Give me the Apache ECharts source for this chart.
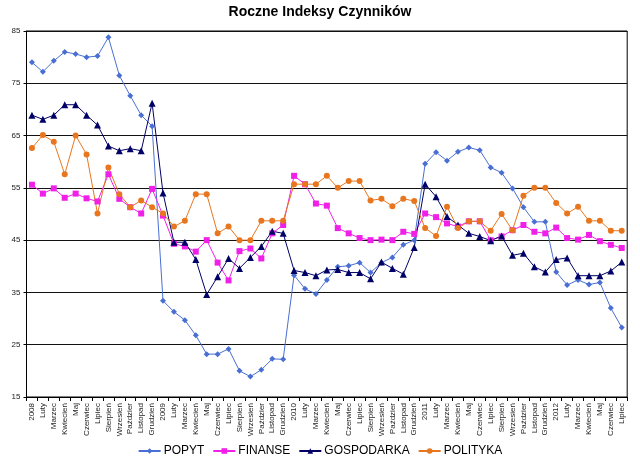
<!DOCTYPE html>
<html>
<head>
<meta charset="utf-8">
<script src="https://cdn.jsdelivr.net/npm/echarts@6/dist/echarts.min.js"></script>
<style>html,body{margin:0;padding:0;background:#fff}#c{width:640px;height:476px}</style>
</head>
<body>
<div id="c"></div>
<script>
const months = ["Luty","Marzec","Kwiecień","Maj","Czerwiec","Lipiec","Sierpień","Wrzesień","Paździer","Listopad","Grudzień"];
const categories = [].concat(["2008"], months, ["2009"], months, ["2010"], months, ["2011"], months,
  ["2012","Luty","Marzec","Kwiecień","Maj","Czerwiec","Lipiec"]);
const yTicks = { min: 15, max: 85, step: 10 };

const popyt = [79.0,77.2,79.3,81.0,80.6,80.0,80.2,83.8,76.5,72.6,68.9,66.8,
  33.4,31.3,29.7,26.8,23.2,23.2,24.2,20.0,18.9,20.2,22.3,22.2,
  38.3,35.7,34.7,37.4,39.9,40.1,40.7,38.8,40.7,41.7,44.1,45.0,
  59.6,61.8,60.2,61.9,62.7,62.2,58.9,57.9,54.9,51.3,48.5,48.5,
  38.9,36.4,37.4,36.5,36.9,32.0,28.3];
const finanse = [55.6,53.9,54.9,53.1,53.9,53.0,52.4,57.6,52.9,51.3,50.1,54.8,
  49.7,44.3,43.8,42.8,45.0,40.7,37.3,42.9,43.4,41.5,46.3,47.9,
  57.3,55.7,52.0,51.6,47.3,46.3,45.4,45.0,45.1,45.0,46.6,46.2,
  50.1,49.4,48.2,47.6,48.6,48.6,45.0,45.7,46.9,47.9,46.6,46.3,
  47.4,45.4,45.1,46.0,44.8,44.1,43.5];
const gospodarka = [68.9,68.1,68.9,70.9,70.9,68.9,67.0,63.0,62.1,62.5,62.1,71.2,
  54.0,44.6,44.6,41.3,34.6,38.0,41.5,39.6,41.7,43.8,46.7,46.3,
  39.2,38.8,38.2,39.3,39.4,38.8,38.8,37.6,40.8,39.6,38.5,43.6,
  55.7,53.3,49.5,47.9,46.3,45.7,44.9,45.8,42.1,42.5,39.9,38.9,
  41.3,41.6,38.2,38.2,38.2,39.1,40.8];
const polityka = [62.6,65.1,63.8,57.6,65.0,61.4,50.1,58.9,53.8,51.3,52.6,51.3,
  50.1,47.6,48.7,53.8,53.8,46.3,47.6,45.0,45.0,48.7,48.7,48.7,
  55.7,55.7,55.7,57.3,55.0,56.3,56.3,52.6,52.9,51.5,52.9,52.5,
  47.3,45.8,51.4,47.3,48.6,48.6,46.8,50.0,46.9,53.5,55.0,55.0,
  52.1,50.1,51.4,48.7,48.7,46.8,46.8];

const chart = echarts.init(document.getElementById('c'), null, {renderer: 'canvas'});
const mk = (name, data, color, symbol, size) => ({
  name, type: 'line', data, symbol, symbolSize: size,
  lineStyle: { color, width: 1 }, itemStyle: { color },
  emphasis: { disabled: true }, animation: false
});
chart.setOption({
  animation: false,
  title: { text: 'Roczne Indeksy Czynników', left: 'center', top: 0,
    textStyle: { fontFamily: 'Liberation Sans, Arial', fontSize: 14, fontWeight: 'bold', color: '#000' } },
  legend: { bottom: 14, left: 'center', itemWidth: 22, itemHeight: 7, itemGap: 8,
    textStyle: { fontFamily: 'Liberation Sans, Arial', fontSize: 12, color: '#000', padding: [0,0,0,-2] },
    data: ['POPYT','FINANSE','GOSPODARKA','POLITYKA'] },
  grid: { left: 26.5, right: 12.8, top: 31, bottom: 79, show: true, borderColor: '#000', borderWidth: 1 },
  xAxis: { type: 'category', data: categories, boundaryGap: true,
    axisLine: { lineStyle: { color: '#000', width: 1 } },
    axisTick: { show: true, alignWithLabel: false, interval: 0, length: 4, lineStyle: { color: '#000' } },
    axisLabel: { interval: 0, rotate: 90, fontSize: 8, color: '#222', fontFamily: 'Liberation Sans, Arial', margin: 6 } },
  yAxis: { type: 'value', min: yTicks.min, max: yTicks.max, interval: yTicks.step,
    axisLine: { show: true, lineStyle: { color: '#000', width: 1 } },
    axisTick: { show: true, length: 3, lineStyle: { color: '#000' } },
    axisLabel: { fontSize: 8, color: '#222', fontFamily: 'Liberation Sans, Arial', margin: 6 },
    splitLine: { show: true, lineStyle: { color: '#111', width: 1.2 } } },
  series: [
    mk('POPYT', popyt, '#4A6FD3', 'diamond', 6),
    mk('FINANSE', finanse, '#F020E8', 'rect', 6),
    mk('GOSPODARKA', gospodarka, '#000066', 'triangle', 7),
    mk('POLITYKA', polityka, '#E8761E', 'circle', 6)
  ]
});
</script>
</body>
</html>
